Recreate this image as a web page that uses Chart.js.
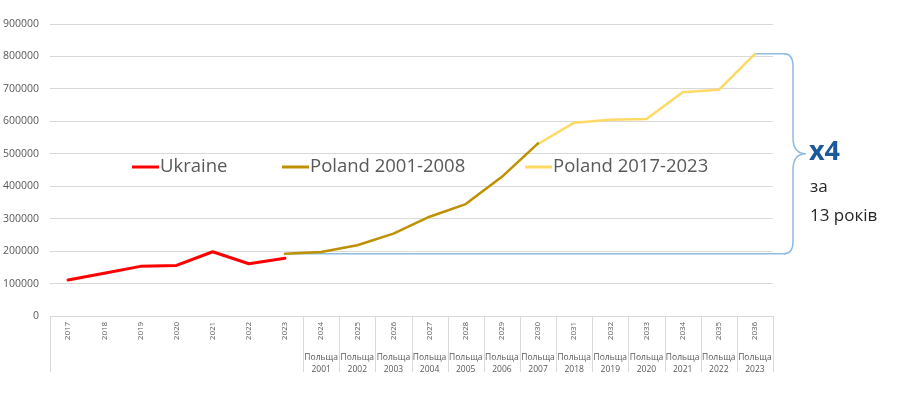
<!DOCTYPE html>
<html>
<head>
<meta charset="utf-8">
<title>Ukraine vs Poland</title>
<script src="https://cdn.jsdelivr.net/npm/chart.js@4.4.0/dist/chart.umd.min.js"></script>
<style>
    body { margin: 0; background: #ffffff; }
    #chart-container { width: 900px; height: 396px; position: relative; }
</style>
</head>
<body>
<div id="chart-container"><canvas id="growth-chart"></canvas></div>
<script>
// category labels (first level) and the "Польща" years under them (second level)
const years = ['2017', '2018', '2019', '2020', '2021', '2022', '2023', '2024', '2025', '2026',
    '2027', '2028', '2029', '2030', '2031', '2032', '2033', '2034', '2035', '2036'];
const polandYears = ['', '', '', '', '', '', '', '2001', '2002', '2003',
    '2004', '2005', '2006', '2007', '2018', '2019', '2020', '2021', '2022', '2023'];
const groupWord = 'Польща';

// series values
const ukraine = [111000, 132000, 153000, 156000, 198000, 161000, 178000,
    null, null, null, null, null, null, null, null, null, null, null, null, null];
const polandEarly = [null, null, null, null, null, null, 192000, 197000, 218000, 254000,
    306000, 345000, 429000, 532000, null, null, null, null, null, null];
const polandLate = [null, null, null, null, null, null, null, null, null, null,
    null, null, null, 530000, 596000, 605000, 607000, 690000, 697000, 808000];

const yTicks = [0, 100000, 200000, 300000, 400000, 500000, 600000, 700000, 800000, 900000];

const FONT = '"Open Sans", "Noto Sans", sans-serif';
const GREY = '#595959';
const GRID = '#d9d9d9';
const BRACE = '#8fbce3';

// draws the two-level category axis, the legend and the x4 bracket
const extrasPlugin = {
    id: 'extras',
    beforeDatasetsDraw(chart) {
        const ctx = chart.ctx;
        const x = chart.scales.x;
        const y = chart.scales.y;
        const yLow = y.getPixelForValue(polandEarly[6]);
        const yHigh = y.getPixelForValue(polandLate[19]);
        ctx.save();
        ctx.strokeStyle = BRACE;
        ctx.lineWidth = 1.5;
        ctx.beginPath();
        ctx.moveTo(x.getPixelForValue(6), yLow);
        ctx.lineTo(786, yLow);
        ctx.moveTo(x.getPixelForValue(19), yHigh);
        ctx.lineTo(786, yHigh);
        ctx.stroke();
        ctx.restore();
    },
    afterDraw(chart) {
        const ctx = chart.ctx;
        const area = chart.chartArea;
        const x = chart.scales.x;
        const y = chart.scales.y;
        const step = (area.right - area.left) / years.length;
        const axisBottom = 372;

        ctx.save();
        // axis frame
        ctx.strokeStyle = GRID;
        ctx.lineWidth = 1;
        ctx.beginPath();
        ctx.moveTo(area.left, area.bottom + 0.5);
        ctx.lineTo(area.right, area.bottom + 0.5);
        const bounds = [0];
        for (let i = 7; i <= years.length; i++) bounds.push(i);
        bounds.forEach(b => {
            const bx = Math.round(area.left + b * step) + 0.5;
            ctx.moveTo(bx, area.bottom);
            ctx.lineTo(bx, axisBottom);
        });
        ctx.stroke();

        // first level: rotated years
        ctx.fillStyle = GREY;
        ctx.font = '8px ' + FONT;
        ctx.textAlign = 'center';
        ctx.textBaseline = 'middle';
        years.forEach((label, i) => {
            ctx.save();
            ctx.translate(x.getPixelForValue(i), area.bottom + 15);
            ctx.rotate(-Math.PI / 2);
            ctx.fillText(label, 0, 0);
            ctx.restore();
        });

        // second level
        ctx.font = '8.5px ' + FONT;
        polandYears.forEach((label, i) => {
            if (!label) return;
            const cx = x.getPixelForValue(i);
            ctx.fillText(groupWord, cx, area.bottom + 42);
            ctx.fillText(label, cx, area.bottom + 54);
        });

        // legend inside the plot
        const legendX = [132, 282, 525];
        const legendY = 167;
        ctx.font = '18.5px ' + FONT;
        ctx.textAlign = 'left';
        chart.data.datasets.forEach((ds, i) => {
            ctx.strokeStyle = ds.borderColor;
            ctx.lineWidth = 3;
            ctx.beginPath();
            ctx.moveTo(legendX[i], legendY);
            ctx.lineTo(legendX[i] + 27, legendY);
            ctx.stroke();
            ctx.fillStyle = GREY;
            ctx.fillText(ds.label, legendX[i] + 28, legendY);
        });

        // curly bracket between the first and the last Poland value
        const top = y.getPixelForValue(polandLate[19]);
        const bottom = y.getPixelForValue(polandEarly[6]);
        const mid = (top + bottom) / 2;
        const bx = 793;
        ctx.strokeStyle = BRACE;
        ctx.lineWidth = 1.5;
        ctx.beginPath();
        ctx.moveTo(784, top);
        ctx.quadraticCurveTo(bx, top, bx, top + 12);
        ctx.lineTo(bx, mid - 16);
        ctx.quadraticCurveTo(bx, mid, 806, mid);
        ctx.quadraticCurveTo(bx, mid, bx, mid + 16);
        ctx.lineTo(bx, bottom - 12);
        ctx.quadraticCurveTo(bx, bottom, 784, bottom);
        ctx.stroke();

        ctx.fillStyle = '#1a5a9b';
        ctx.font = 'bold 27px ' + FONT;
        ctx.fillText('x4', 809, mid - 1);
        ctx.fillStyle = '#262626';
        ctx.font = '17px ' + FONT;
        ctx.fillText('за', 810, mid + 33);
        ctx.fillText('13 років', 810, mid + 62);
        ctx.restore();
    }
};

const ctx = document.getElementById('growth-chart').getContext('2d');
const growthChart = new Chart(ctx, {
    type: 'line',
    data: {
        labels: years,
        datasets: [
            { label: 'Ukraine', data: ukraine, borderColor: '#ff0000', borderWidth: 3 },
            { label: 'Poland 2001-2008', data: polandEarly, borderColor: '#bf9000', borderWidth: 2.5 },
            { label: 'Poland 2017-2023', data: polandLate, borderColor: '#ffd966', borderWidth: 2.5 }
        ]
    },
    options: {
        responsive: true,
        maintainAspectRatio: false,
        animation: false,
        layout: { padding: { top: 24, right: 127, bottom: 80, left: 0 } },
        elements: {
            point: { radius: 0 },
            line: { tension: 0, borderCapStyle: 'round', borderJoinStyle: 'round' }
        },
        plugins: {
            legend: { display: false },
            tooltip: { enabled: false }
        },
        scales: {
            x: {
                display: false,
                offset: true
            },
            y: {
                min: 0,
                max: 900000,
                afterFit: scale => { scale.width = 50; },
                afterBuildTicks: scale => { scale.ticks = yTicks.map(v => ({ value: v })); },
                border: { display: false },
                grid: { color: GRID, drawTicks: false },
                ticks: {
                    color: GREY,
                    padding: 11,
                    font: { family: FONT, size: 10.5 },
                    callback: value => String(value)
                }
            }
        }
    },
    plugins: [extrasPlugin]
});
</script>
</body>
</html>
